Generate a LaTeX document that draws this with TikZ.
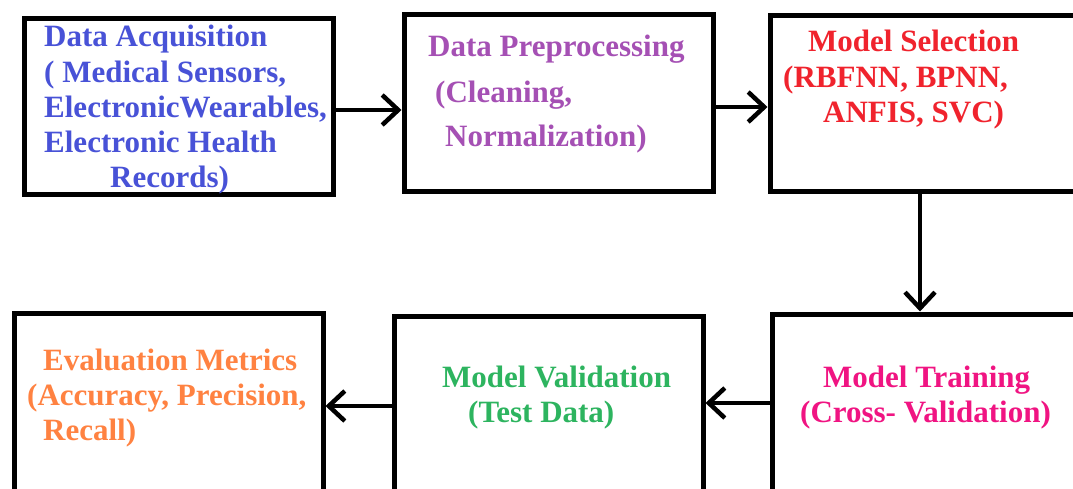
\documentclass[tikz,border=0pt]{standalone}
\usepackage{fontspec}
\setmainfont{Liberation Serif}
\usetikzlibrary{arrows.meta}
\definecolor{cblue}{RGB}{72,82,215}
\definecolor{cpurple}{RGB}{165,80,180}
\definecolor{cred}{RGB}{240,35,45}
\definecolor{cpink}{RGB}{240,20,130}
\definecolor{cgreen}{RGB}{45,180,95}
\definecolor{corange}{RGB}{255,130,65}
\begin{document}
\begin{tikzpicture}[x=1pt,y=-1pt,
  box/.style={draw=black,line width=5pt,fill=white,inner sep=0pt},
  txt/.style={anchor=base west,inner sep=0pt,font=\fontsize{31}{35}\selectfont\bfseries},
  arr/.style={line width=4.5pt,-{Straight Barb[length=16pt,width=30pt]}}]
\clip (0,0) rectangle (1073,489);
\fill[white] (0,0) rectangle (1073,489);
% boxes
\node[box,minimum width=309pt,minimum height=176pt] (b1) at (178.5,107) {};
\node[box,minimum width=309pt,minimum height=177pt] (b2) at (558.5,103.5) {};
\node[box,minimum width=315pt,minimum height=176pt] (b3) at (927.5,104) {};
\node[box,minimum width=313pt,minimum height=186pt] (b6) at (928.5,407) {};
\node[box,minimum width=309pt,minimum height=184pt] (b5) at (548.5,408) {};
\node[box,minimum width=309pt,minimum height=187pt] (b4) at (168.5,406.5) {};
% texts box 1
\node[txt,text=cblue] (t11) at (44,47) {Data Acquisition};
\node[txt,text=cblue] (t12) at (44,83) {( Medical Sensors,};
\node[txt,text=cblue] (t13) at (44,118) {ElectronicWearables,};
\node[txt,text=cblue] (t14) at (44,153) {Electronic Health};
\node[txt,text=cblue] (t15) at (110,188) {Records)};
% box 2
\node[txt,text=cpurple] (t21) at (428,57) {Data Preprocessing};
\node[txt,text=cpurple] (t22) at (435,103) {(Cleaning,};
\node[txt,text=cpurple] (t23) at (445,147) {Normalization)};
% box 3
\node[txt,text=cred] (t31) at (808,52) {Model Selection};
\node[txt,text=cred] (t32) at (783,88) {(RBFNN, BPNN,};
\node[txt,text=cred] (t33) at (823,123) {ANFIS, SVC)};
% box 6
\node[txt,text=cpink] (t61) at (823,387) {Model Training};
\node[txt,text=cpink] (t62) at (800,422) {(Cross- Validation)};
% box 5
\node[txt,text=cgreen] (t51) at (442,387) {Model Validation};
\node[txt,text=cgreen] (t52) at (468,422) {(Test Data)};
% box 4
\node[txt,text=corange] (t41) at (43,370) {Evaluation Metrics};
\node[txt,text=corange] (t42) at (27,405) {(Accuracy, Precision,};
\node[txt,text=corange] (t43) at (43,440) {Recall)};
% arrows
\draw[arr] (b1.east |- 0,110) -- (b2.west |- 0,110);
\draw[arr] (b2.east |- 0,107) -- (b3.west |- 0,107);
\draw[arr] (b3.south -| 920,0) -- (b6.north -| 920,0);
\draw[arr] (b6.west |- 0,403) -- (b5.east |- 0,403);
\draw[arr] (b5.west |- 0,406) -- (b4.east |- 0,406);
\end{tikzpicture}
\end{document}
